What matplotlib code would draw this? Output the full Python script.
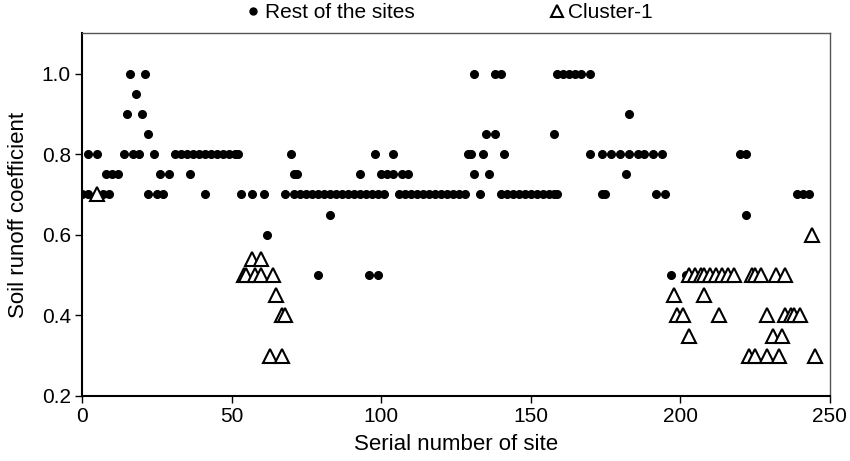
import matplotlib
matplotlib.use("Agg")
import matplotlib.pyplot as plt
from matplotlib.lines import Line2D

plt.rcParams['font.family'] = ['Liberation Sans', 'DejaVu Sans']

# rest of the sites (serial number, runoff coefficient)
rest_site = [16, 21, 131, 138, 140, 159, 161, 163, 165, 167, 170,
             18,
             15, 20, 183,
             22, 135, 138, 158,
             2, 5, 14, 17, 19, 24, 31, 33, 35, 37, 39, 41, 43, 45, 47, 49, 51, 52,
             70, 98, 104, 129, 130, 134, 141, 170, 174, 177, 180, 183, 186, 188,
             191, 194, 220, 222,
             8, 10, 12, 26, 29, 36, 71, 72, 93, 100, 102, 104, 107, 109, 131, 136, 182,
             0, 2, 7, 9, 22, 25, 27, 41, 53, 57, 61, 68,
             71, 73, 75, 77, 79, 81, 83, 85, 87, 89, 91, 93, 95, 97, 99, 101,
             106, 108, 110, 112, 114, 116, 118, 120, 122, 124, 126, 128, 133,
             140, 142, 144, 146, 148, 150, 152, 154, 156, 158, 159,
             174, 175, 192, 195, 239, 241, 243,
             83, 222,
             62,
             79, 96, 99, 197, 202]
rest_coef = ([1.0] * 11 + [0.95] + [0.9] * 3 + [0.85] * 4 + [0.8] * 36 +
             [0.75] * 17 + [0.7] * 59 + [0.65] * 2 + [0.6] + [0.5] * 5)

# cluster-1 sites
cluster_site = [5,
                57, 60,
                54, 55, 58, 60, 64,
                65,
                67, 68,
                63, 67,
                203, 205, 207, 208, 210, 212, 214, 216, 218, 224, 225, 227, 232, 235,
                198, 208,
                199, 201, 213, 229, 235, 237, 238, 240,
                203, 231, 234,
                223, 225, 229, 233, 245,
                244]
cluster_coef = ([0.7] + [0.54] * 2 + [0.5] * 5 + [0.45] + [0.4] * 2 + [0.3] * 2 +
                [0.5] * 14 + [0.45] * 2 + [0.4] * 8 + [0.35] * 3 + [0.3] * 5 + [0.6])

fig = plt.figure(figsize=(8.5, 4.61), dpi=100)
ax = fig.add_axes([0.0965, 0.141, 0.8795, 0.787])

ax.plot(rest_site, rest_coef, 'o', color='black', markersize=5.5, linestyle='none')
ax.plot(cluster_site, cluster_coef, '^', markerfacecolor='white', markeredgecolor='black',
        markeredgewidth=1.5, markersize=9.4, linestyle='none')

ax.set_xlim(0, 250)
ax.set_ylim(0.2, 1.1)
ax.set_xticks([0, 50, 100, 150, 200, 250])
ax.set_yticks([0.2, 0.4, 0.6, 0.8, 1.0])
ax.set_yticklabels(['0.2', '0.4', '0.6', '0.8', '1.0'])
ax.tick_params(direction='out', length=5, width=1, labelsize=15, colors='black', pad=3)
ax.set_xlabel('Serial number of site', fontsize=16, labelpad=6)
ax.set_ylabel('Soil runoff coefficient', fontsize=16, labelpad=9)

for side in ['left', 'bottom']:
    ax.spines[side].set_linewidth(1.5)
for side in ['top', 'right']:
    ax.spines[side].set_linewidth(1.0)
    ax.spines[side].set_color('#555555')

handles = [Line2D([], [], marker='o', color='black', markersize=5, linestyle='none'),
           Line2D([], [], marker='^', markerfacecolor='white', markeredgecolor='black',
                  markeredgewidth=1.5, markersize=8, linestyle='none')]
fig.legend(handles, ['Rest of the sites', 'Cluster-1'], loc='center',
           bbox_to_anchor=(0.53, 0.972), ncol=2, frameon=False, fontsize=15,
           handlelength=0.5, handletextpad=0.3, columnspacing=6.6, borderpad=0)

fig.savefig('out.png', dpi=100)
